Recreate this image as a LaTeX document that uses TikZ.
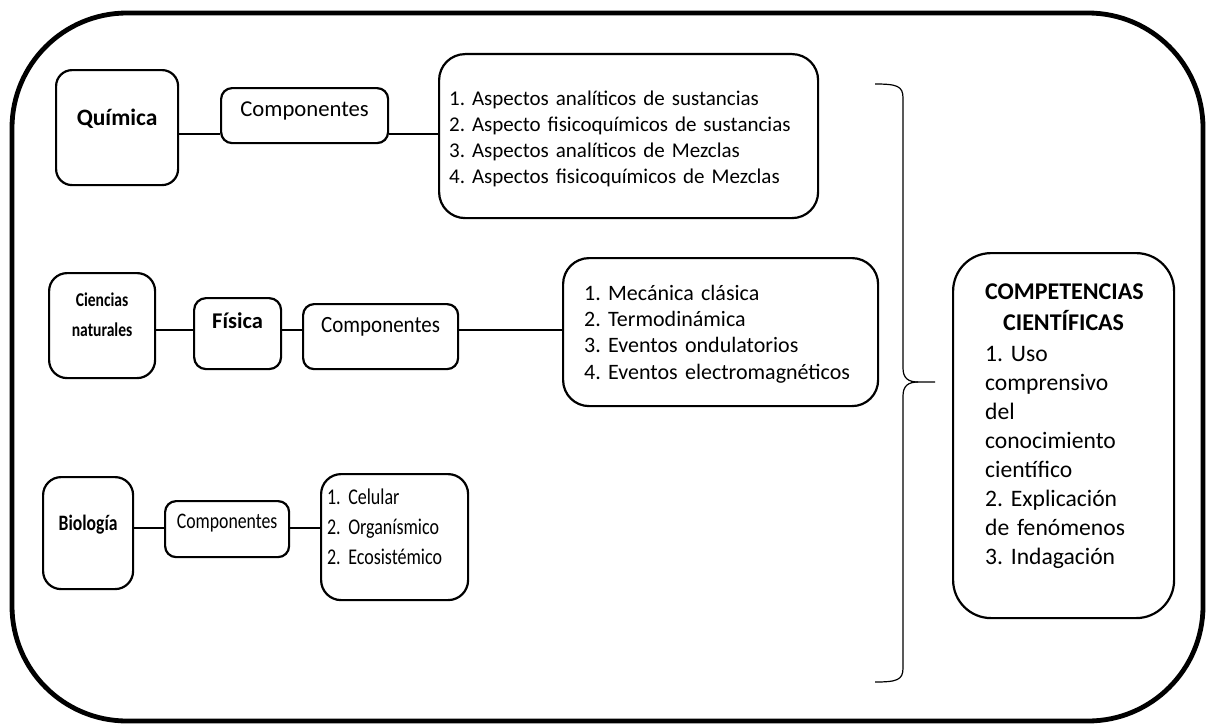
\documentclass[tikz,border=0pt]{standalone}
\usepackage{fontspec}
\setmainfont{Carlito}
\newfontfamily\midfont[FakeStretch=0.9]{Carlito}
\newfontfamily\narrowfont[FakeStretch=0.8]{Carlito}

\begin{document}
\frenchspacing
\begin{tikzpicture}[x=1pt, y=-1pt,
    box/.style={draw, line width=2.2pt, inner sep=0pt, anchor=north west},
    listbox/.style={box, align=left, inner ysep=0pt},
    link/.style={line width=1.1pt}]
    \useasboundingbox (0,0) rectangle (1209,725);

    % outer frame
    \draw[line width=4.8pt, rounded corners=115pt] (12,13) rectangle (1203,721);

    % Quimica
    \node[box, rounded corners=16pt, minimum width=122pt, minimum height=115pt,
          font=\fontsize{23.5}{28}\selectfont\bfseries, text height=17pt, text depth=22pt]
          (quim) at (55,69) {Química};
    \node[box, rounded corners=11pt, minimum width=167pt, minimum height=55pt,
          font=\fontsize{22.7}{28}\selectfont, text height=17pt, text depth=16pt]
          (qcomp) at (220,87) {Componentes};
    \node[listbox, rounded corners=26pt, minimum height=164pt, inner xsep=10pt, text width=359pt,
          font=\fontsize{21}{26}\selectfont, text height=16pt, text depth=78pt]
          (qlist) at (438,53) {1. Aspectos analíticos de sustancias\\
          2. Aspecto fisicoquímicos de sustancias\\
          3. Aspectos analíticos de Mezclas\\
          4. Aspectos fisicoquímicos de Mezclas};

    % Ciencias naturales / Fisica
    \node[box, rounded corners=18pt, minimum width=106pt, minimum height=105pt, align=center,
          font=\fontsize{19.5}{30}\selectfont\narrowfont\bfseries, text height=42pt, text depth=21pt]
          (cien) at (48,272) {Ciencias\\naturales};
    \node[box, rounded corners=12pt, minimum width=87pt, minimum height=71pt,
          font=\fontsize{22.5}{28}\selectfont\bfseries, text height=17pt, text depth=28pt]
          (fis) at (193,297) {Física};
    \node[box, rounded corners=11pt, minimum width=155pt, minimum height=65pt,
          font=\fontsize{23.3}{28}\selectfont\midfont, text height=17pt, text depth=25pt]
          (fcomp) at (302,303) {Componentes};
    \node[listbox, rounded corners=26pt, minimum height=148pt, inner xsep=21pt, text width=273pt,
          font=\fontsize{22}{26.3}\selectfont, text height=16pt, text depth=80pt]
          (flist) at (562,257) {1. Mecánica clásica\\
          2. Termodinámica\\
          3. Eventos ondulatorios\\
          4. Eventos electromagnéticos};

    % Biologia
    \node[box, rounded corners=18pt, minimum width=90pt, minimum height=112pt,
          font=\fontsize{22}{28}\selectfont\narrowfont\bfseries, text height=17pt, text depth=23pt]
          (biol) at (42,476) {Biología};
    \node[box, rounded corners=11pt, minimum width=124pt, minimum height=56pt,
          font=\fontsize{22.2}{28}\selectfont\narrowfont, text height=17pt, text depth=19pt]
          (bcomp) at (164,500) {Componentes};
    \node[listbox, rounded corners=20pt, minimum height=126pt, inner xsep=6pt, text width=135pt,
          font=\fontsize{22.5}{30}\selectfont\narrowfont, text height=16pt, text depth=82pt]
          (blist) at (320,473) {1. Celular\\
          2. Organísmico\\
          2. Ecosistémico};

    % competencias
    \node[box, rounded corners=38pt, minimum height=365pt, inner xsep=32pt, text width=157pt,
          font=\fontsize{23.6}{29}\selectfont, text height=17pt, text depth=290pt]
          (comp) at (952,252) {{\centering\bfseries\fontsize{24}{31}\selectfont
          COMPETENCIAS\\CIENTÍFICAS\par}\vspace{2pt}\raggedright
          1. Uso\\comprensivo\\del\\conocimiento\\científico\\
          2. Explicación\\de fenómenos\\3. Indagación};

    % links
    \coordinate (qrow) at (0,134);
    \coordinate (frow) at (0,330);
    \coordinate (brow) at (0,528);
    \draw[link] (quim.east |- qrow) -- (qcomp.west |- qrow);
    \draw[link] (qcomp.east |- qrow) -- (qlist.west |- qrow);
    \draw[link] (cien.east |- frow) -- (fis.west |- frow);
    \draw[link] (fis.east |- frow) -- (fcomp.west |- frow);
    \draw[link] (fcomp.east |- frow) -- (flist.west |- frow);
    \draw[link] (biol.east |- brow) -- (bcomp.west |- brow);
    \draw[link] (bcomp.east |- brow) -- (blist.west |- brow);

    % brace
    \coordinate (btip) at (935,382);
    \draw[line width=1.2pt] (875,84) .. controls (897,84) and (903,86) .. (903,98)
        -- (903,368) .. controls (903,378) and (908,382) .. (918,382) -- (btip);
    \draw[line width=1.2pt] (918,382) .. controls (908,382) and (903,386) .. (903,396)
        -- (903,668) .. controls (903,680) and (897,682) .. (875,682);
\end{tikzpicture}
\end{document}
